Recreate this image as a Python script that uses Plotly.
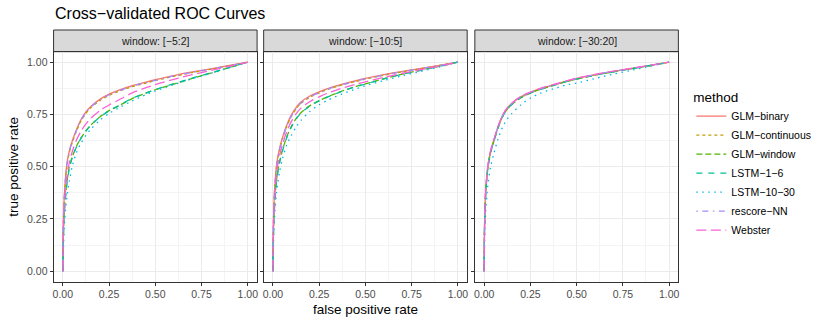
import plotly.graph_objects as go
from plotly.subplots import make_subplots

# shared false positive rate grid for every curve
fpr = [0, 0.002, 0.005, 0.009, 0.02, 0.035, 0.052, 0.075, 0.1, 0.125, 0.15,
       0.2, 0.25, 0.3, 0.375, 0.45, 0.5, 0.6, 0.7, 0.8, 0.9, 1.0]

windows = ['window: [−5:2]', 'window: [−10:5]', 'window: [−30:20]']
methods = ['GLM−binary', 'GLM−continuous', 'GLM−window', 'LSTM−1−6',
           'LSTM−10−30', 'rescore−NN', 'Webster']

# true positive rates, window [-5:2]
tpr_w5 = {
    'GLM−binary':     [0, .20, .30, .375, .50, .575, .625, .68, .728, .762, .787, .822, .847, .865, .888, .905, .916, .936, .953, .968, .984, 1],
    'GLM−continuous': [0, .19, .29, .365, .49, .568, .618, .673, .721, .755, .781, .816, .841, .86, .883, .90, .912, .932, .95, .966, .983, 1],
    'GLM−window':     [0, .13, .22, .30, .41, .50, .55, .60, .64, .672, .698, .738, .768, .79, .826, .852, .868, .895, .922, .948, .974, 1],
    'LSTM−1−6':       [0, .12, .21, .29, .40, .49, .545, .597, .638, .67, .697, .737, .767, .791, .827, .853, .869, .897, .924, .949, .975, 1],
    'LSTM−10−30':     [0, .06, .15, .23, .34, .43, .505, .57, .615, .65, .678, .722, .755, .78, .815, .845, .862, .893, .921, .947, .973, 1],
    'rescore−NN':     [0, .20, .30, .372, .497, .572, .622, .677, .725, .759, .784, .819, .844, .862, .885, .902, .913, .934, .951, .967, .983, 1],
    'Webster':        [0, .17, .26, .33, .44, .52, .575, .63, .672, .705, .73, .768, .795, .818, .853, .878, .893, .918, .94, .96, .98, 1],
}

# window [-10:5]
tpr_w10 = {
    'GLM−binary':     [0, .20, .31, .39, .51, .585, .64, .70, .748, .783, .808, .838, .858, .875, .895, .912, .922, .94, .956, .97, .985, 1],
    'GLM−continuous': [0, .19, .30, .38, .50, .577, .633, .693, .741, .776, .802, .832, .853, .871, .891, .908, .919, .938, .954, .969, .984, 1],
    'GLM−window':     [0, .14, .24, .32, .44, .52, .58, .643, .693, .73, .757, .792, .816, .836, .862, .884, .896, .921, .943, .962, .98, 1],
    'LSTM−1−6':       [0, .13, .23, .31, .43, .515, .576, .64, .69, .727, .755, .79, .815, .835, .861, .883, .895, .92, .942, .961, .98, 1],
    'LSTM−10−30':     [0, .08, .18, .26, .38, .47, .54, .605, .65, .69, .72, .765, .796, .82, .848, .872, .887, .912, .935, .956, .977, 1],
    'rescore−NN':     [0, .19, .30, .38, .50, .578, .634, .695, .743, .778, .803, .834, .854, .872, .892, .909, .92, .938, .955, .969, .984, 1],
    'Webster':        [0, .17, .27, .35, .47, .55, .607, .668, .717, .753, .779, .812, .834, .853, .876, .895, .906, .927, .947, .964, .981, 1],
}

# window [-30:20]
tpr_w30 = {
    'GLM−binary':     [0, .20, .31, .39, .50, .575, .625, .69, .745, .78, .803, .835, .856, .872, .892, .911, .922, .94, .956, .97, .985, 1],
    'GLM−continuous': [0, .19, .30, .383, .495, .571, .622, .687, .742, .777, .80, .832, .853, .87, .89, .909, .92, .939, .955, .969, .984, 1],
    'GLM−window':     [0, .19, .30, .38, .493, .568, .62, .685, .74, .775, .798, .83, .852, .868, .889, .908, .919, .938, .954, .969, .984, 1],
    'LSTM−1−6':       [0, .18, .29, .375, .49, .566, .618, .684, .739, .775, .798, .831, .852, .869, .889, .908, .919, .938, .954, .969, .984, 1],
    'LSTM−10−30':     [0, .10, .21, .29, .41, .50, .56, .632, .69, .728, .755, .797, .828, .85, .873, .892, .90, .922, .943, .962, .981, 1],
    'rescore−NN':     [0, .20, .31, .388, .498, .573, .624, .689, .744, .779, .802, .834, .855, .871, .891, .91, .921, .94, .956, .97, .985, 1],
    'Webster':        [0, .20, .31, .39, .502, .577, .627, .692, .747, .782, .805, .837, .857, .873, .893, .912, .923, .941, .957, .971, .986, 1],
}

tick_vals = [0, 0.25, 0.5, 0.75, 1.0]
tick_text = ['0.00', '0.25', '0.50', '0.75', '1.00']
minor_vals = [0.125, 0.375, 0.625, 0.875]

# ggplot hue palette + linetypes
COLORS = {
    'GLM−binary': '#F8766D',
    'GLM−continuous': '#C49A00',
    'GLM−window': '#53B400',
    'LSTM−1−6': '#00C094',
    'LSTM−10−30': '#00B6EB',
    'rescore−NN': '#A58AFF',
    'Webster': '#FB61D7',
}
DASHES = {
    'GLM−binary': 'solid',
    'GLM−continuous': '3px,3px',
    'GLM−window': '6px,3px',
    'LSTM−1−6': '6px,6px',
    'LSTM−10−30': '1.5px,4.5px',
    'rescore−NN': '1.5px,4.5px,6px,4.5px',
    'Webster': '10px,4.5px',
}

FONT = 'Liberation Sans, Arial, sans-serif'
W, H = 830, 323

fig = make_subplots(rows=1, cols=3)

for j, tpr in enumerate([tpr_w5, tpr_w10, tpr_w30]):
    for name in methods:
        fig.add_trace(go.Scatter(
            x=fpr, y=tpr[name],
            mode='lines', name=name,
            line=dict(color=COLORS[name], width=1.3, dash=DASHES[name],
                      shape='spline', smoothing=0.8),
            legendgroup=name,
            showlegend=(j == 0),
        ), row=1, col=j + 1)

# panel positions in pixels (left, right), plot area top/bottom
panels_px = [(52.7, 256.7), (263.3, 467.3), (475.0, 679.0)]
top_px, bottom_px, strip_top_px = 51.7, 281.7, 30.0

for j, (x0, x1) in enumerate(panels_px):
    ax = '' if j == 0 else str(j + 1)
    fig.layout['xaxis' + ax].domain = [x0 / W, x1 / W]
    fig.layout['yaxis' + ax].domain = [(H - bottom_px) / H, (H - top_px) / H]
    # strip
    fig.add_shape(
        type='rect', xref='paper', yref='paper',
        x0=x0 / W, x1=x1 / W,
        y0=(H - top_px) / H, y1=(H - strip_top_px) / H,
        fillcolor='#D9D9D9', line=dict(color='#333333', width=1),
        layer='below',
    )
    fig.add_annotation(
        text=windows[j], xref='paper', yref='paper',
        x=(x0 + x1) / 2 / W, y=(H - (top_px + strip_top_px) / 2) / H,
        xanchor='center', yanchor='middle',
        showarrow=False, font=dict(family=FONT, size=10.5, color='#1A1A1A'),
    )

axis_style = dict(
    range=[-0.05, 1.05], tickvals=tick_vals, ticktext=tick_text,
    showgrid=True, gridcolor='#EBEBEB', gridwidth=1,
    minor=dict(tickvals=minor_vals, showgrid=True,
               gridcolor='#F4F4F4', gridwidth=0.6),
    showline=True, mirror=True, linecolor='#333333', linewidth=1,
    ticks='outside', ticklen=3, tickcolor='#333333', tickwidth=1,
    tickfont=dict(family=FONT, size=10.5, color='#4D4D4D'),
    zeroline=False,
)
fig.update_xaxes(**axis_style)
fig.update_yaxes(**axis_style)
fig.update_yaxes(showticklabels=False, row=1, col=2)
fig.update_yaxes(showticklabels=False, row=1, col=3)

# titles
fig.add_annotation(
    text='Cross−validated ROC Curves', xref='paper', yref='paper',
    x=52 / W, y=(H - 13) / H, xanchor='left', yanchor='middle',
    showarrow=False, font=dict(family=FONT, size=16, color='black'),
)
fig.add_annotation(
    text='false positive rate', xref='paper', yref='paper',
    x=365.3 / W, y=(H - 309) / H, xanchor='center', yanchor='middle',
    showarrow=False, font=dict(family=FONT, size=13.5, color='black'),
)
fig.add_annotation(
    text='true positive rate', xref='paper', yref='paper',
    x=13 / W, y=(H - 166.7) / H, xanchor='center', yanchor='middle',
    textangle=-90,
    showarrow=False, font=dict(family=FONT, size=13.5, color='black'),
)

fig.update_layout(
    width=W, height=H,
    margin=dict(l=0, r=0, t=0, b=0),
    plot_bgcolor='white', paper_bgcolor='white',
    font=dict(family=FONT),
    legend=dict(
        title=dict(text='method', font=dict(family=FONT, size=13.5, color='black')),
        font=dict(family=FONT, size=10.5, color='black'),
        x=692 / W, xanchor='left',
        y=(H - 84) / H, yanchor='top',
        bgcolor='rgba(0,0,0,0)',
        tracegroupgap=0,
        itemwidth=30,
    ),
)

# page body has an 8px default margin; drop it so the figure sits at 0,0
fig.write_html('out.html', config={'displayModeBar': False},
               post_script="document.body.style.margin='0';")
